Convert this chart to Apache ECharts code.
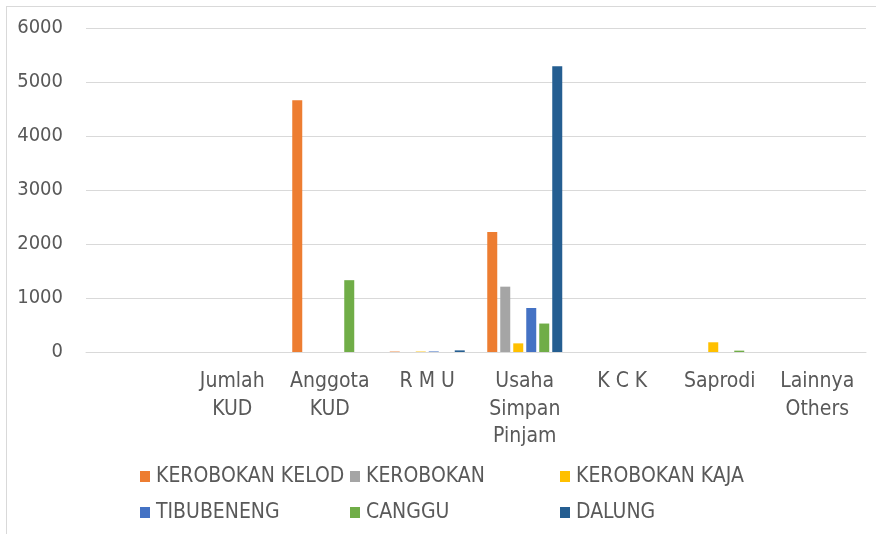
<!DOCTYPE html>
<html>
<head>
<meta charset="utf-8">
<script src="https://cdn.jsdelivr.net/npm/echarts@6/dist/echarts.min.js"></script>
<style>html,body{margin:0;padding:0;background:#fff}#c{width:876px;height:534px}</style>
</head>
<body>
<div id="c"></div>
<script>
const categories = ["", "Jumlah\nKUD", "Anggota\nKUD", "R M U", "Usaha\nSimpan\nPinjam", "K C K", "Saprodi", "Lainnya\nOthers"];
const seriesNames = ["KEROBOKAN KELOD", "KEROBOKAN", "KEROBOKAN KAJA", "TIBUBENENG", "CANGGU", "DALUNG"];
const kerobokanKelod = [0, 0, 4660, 8, 2220, 0, 0, 0];
const kerobokan      = [0, 0, 0, 0, 1210, 0, 0, 0];
const kerobokanKaja  = [0, 0, 0, 8, 160, 0, 180, 0];
const tibubeneng     = [0, 0, 0, 10, 815, 0, 0, 0];
const canggu         = [0, 0, 1330, 0, 527, 0, 25, 0];
const dalung         = [0, 0, 0, 30, 5290, 0, 0, 0];
const yTicks = [0, 1000, 2000, 3000, 4000, 5000, 6000];

const seriesData = [kerobokanKelod, kerobokan, kerobokanKaja, tibubeneng, canggu, dalung];
const colors = ["#ED7D31", "#A5A5A5", "#FFC000", "#4472C4", "#70AD47", "#255E91"];
const FONT = '"Liberation Sans Narrow", "DejaVu Sans Condensed", "Liberation Sans", sans-serif';
const legendPos = [[140, 476], [350, 476], [560, 476], [140, 512], [350, 512], [560, 512]];

const chart = echarts.init(document.getElementById('c'));
chart.setOption({
  animation: false,
  backgroundColor: '#fff',
  color: colors,
  grid: { left: 86, right: 10, top: 28, bottom: 182, containLabel: false },
  xAxis: {
    type: 'category',
    data: categories,
    axisLine: { lineStyle: { color: '#d9d9d9', width: 1 } },
    axisTick: { show: false },
    axisLabel: { color: '#595959', fontFamily: FONT, fontSize: 21, lineHeight: 27.5, margin: 16, interval: 0 }
  },
  yAxis: {
    type: 'value',
    min: yTicks[0],
    max: yTicks[yTicks.length - 1],
    interval: 1000,
    axisLine: { show: false },
    axisTick: { show: false },
    splitLine: { lineStyle: { color: '#d9d9d9', width: 1 } },
    axisLabel: { color: '#595959', fontFamily: FONT, fontSize: 20, margin: 23, formatter: v => String(v) }
  },
  legend: seriesNames.map((n, i) => ({
    data: [n],
    left: legendPos[i][0],
    top: legendPos[i][1] - 10,
    padding: 0,
    itemWidth: 10,
    itemHeight: 11,
    itemGap: 0,
    icon: 'rect',
    textStyle: { color: '#595959', fontFamily: FONT, fontSize: 21, lineHeight: 20, padding: [0, 0, 0, 1] },
    selectedMode: false
  })),
  graphic: [
    { type: 'line', shape: { x1: 6, y1: 6.5, x2: 876, y2: 6.5 }, style: { stroke: '#d9d9d9', lineWidth: 1 } },
    { type: 'line', shape: { x1: 6.5, y1: 6, x2: 6.5, y2: 534 }, style: { stroke: '#d9d9d9', lineWidth: 1 } }
  ],
  series: seriesNames.map((n, i) => ({
    name: n,
    type: 'bar',
    data: seriesData[i],
    barWidth: 10,
    barGap: '30%',
    itemStyle: { color: colors[i] }
  }))
});
</script>
</body>
</html>
